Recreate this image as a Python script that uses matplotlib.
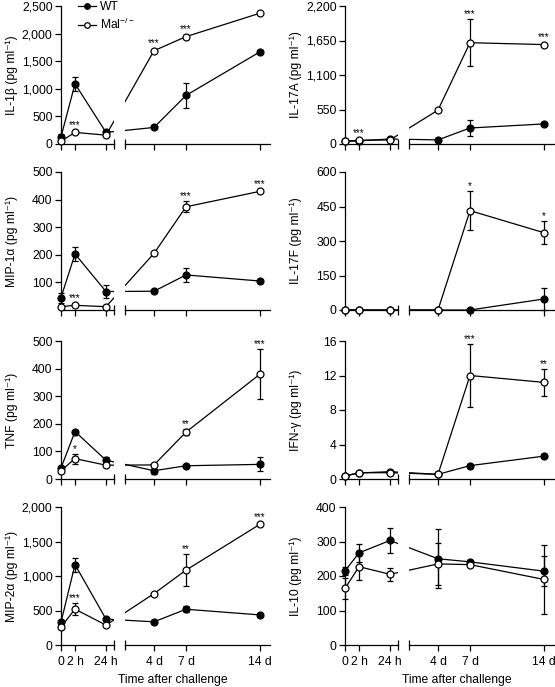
import numpy as np
import matplotlib.pyplot as plt
from matplotlib.lines import Line2D

plt.rcParams['font.family'] = ['Liberation Sans', 'DejaVu Sans']
plt.rcParams['mathtext.fontset'] = 'custom'
plt.rcParams['mathtext.rm'] = 'Liberation Sans'

# time points
times = ['0', '2 h', '24 h', '4 d', '7 d', '14 d']

# IL-1b
il1b_wt = [130, 1090, 210, 300, 880, 1670]
il1b_wt_err = [60, 130, 0, 0, 220, 0]
il1b_mal = [50, 210, 160, 1690, 1945, 2370]
il1b_mal_err = [0, 0, 0, 0, 30, 0]
il1b_stars = ['', '***', '', '***', '***', '']

# IL-17A
il17a_wt = [40, 50, 80, 65, 255, 320]
il17a_wt_err = [0, 0, 0, 0, 130, 0]
il17a_mal = [45, 60, 65, 540, 1615, 1585]
il17a_mal_err = [0, 0, 0, 0, 370, 0]
il17a_stars = ['', '***', '', '', '***', '***']

# MIP-1a
mip1a_wt = [45, 203, 67, 68, 127, 105]
mip1a_wt_err = [18, 25, 22, 0, 25, 0]
mip1a_mal = [12, 17, 12, 205, 374, 430]
mip1a_mal_err = [0, 0, 0, 0, 20, 0]
mip1a_stars = ['', '***', '', '', '***', '***']

# IL-17F
il17f_wt = [0, 0, 0, 0, 0, 48]
il17f_wt_err = [0, 0, 0, 0, 0, 48]
il17f_mal = [0, 0, 0, 0, 432, 336]
il17f_mal_err = [0, 0, 0, 0, 85, 50]
il17f_stars = ['', '', '', '', '*', '*']

# TNF
tnf_wt = [40, 172, 68, 30, 48, 53]
tnf_wt_err = [0, 0, 10, 12, 0, 25]
tnf_mal = [30, 74, 50, 51, 170, 380]
tnf_mal_err = [0, 18, 0, 0, 12, 90]
tnf_stars = ['', '*', '', '', '**', '***']

# IFN-g
ifng_wt = [0.35, 0.7, 0.85, 0.54, 1.55, 2.65]
ifng_wt_err = [0, 0, 0, 0, 0, 0.25]
ifng_mal = [0.35, 0.73, 0.73, 0.54, 12.0, 11.2]
ifng_mal_err = [0, 0, 0, 0, 3.6, 1.6]
ifng_stars = ['', '', '', '', '***', '**']

# MIP-2a
mip2a_wt = [330, 1165, 375, 336, 518, 436]
mip2a_wt_err = [0, 100, 0, 0, 40, 0]
mip2a_mal = [260, 520, 288, 745, 1085, 1750]
mip2a_mal_err = [0, 90, 0, 0, 230, 0]
mip2a_stars = ['', '***', '', '', '**', '***']

# IL-10
il10_wt = [215, 267, 303, 250, 241, 214]
il10_wt_err = [12, 25, 35, 86, 5, 44]
il10_mal = [164, 227, 205, 235, 233, 190]
il10_mal_err = [31, 38, 19, 60, 5, 100]
il10_stars = ['', '', '', '', '', '']

unit = ' (pg ml\u207b\u00b9)'
panels = [
    ('IL-1\u03b2' + unit, (0, 2500), [0, 500, 1000, 1500, 2000, 2500],
     il1b_wt, il1b_wt_err, il1b_mal, il1b_mal_err, il1b_stars),
    ('IL-17A' + unit, (0, 2200), [0, 550, 1100, 1650, 2200],
     il17a_wt, il17a_wt_err, il17a_mal, il17a_mal_err, il17a_stars),
    ('MIP-1\u03b1' + unit, (0, 500), [100, 200, 300, 400, 500],
     mip1a_wt, mip1a_wt_err, mip1a_mal, mip1a_mal_err, mip1a_stars),
    ('IL-17F' + unit, (0, 600), [0, 150, 300, 450, 600],
     il17f_wt, il17f_wt_err, il17f_mal, il17f_mal_err, il17f_stars),
    ('TNF' + unit, (0, 500), [0, 100, 200, 300, 400, 500],
     tnf_wt, tnf_wt_err, tnf_mal, tnf_mal_err, tnf_stars),
    ('IFN-\u03b3' + unit, (0, 16), [0, 4, 8, 12, 16],
     ifng_wt, ifng_wt_err, ifng_mal, ifng_mal_err, ifng_stars),
    ('MIP-2\u03b1' + unit, (0, 2000), [0, 500, 1000, 1500, 2000],
     mip2a_wt, mip2a_wt_err, mip2a_mal, mip2a_mal_err, mip2a_stars),
    ('IL-10' + unit, (0, 400), [0, 100, 200, 300, 400],
     il10_wt, il10_wt_err, il10_mal, il10_mal_err, il10_stars),
]

# layout in pixels
W, H = 555, 687
xpos = np.array([0, 14, 45, 93, 125, 199])
segs = [((0, 53), [0, 1, 2]), ((64, 209), [3, 4, 5])]
col_x0 = [61, 345]
row_bottom = [144, 310, 479, 645]
ax_h = 138
lw = 0.9
ms = 5
fs = 8.7

fig = plt.figure(figsize=(W / 100, H / 100), dpi=100)


def draw_series(ax, idx, y, err, filled, z):
    y = np.array(y, dtype=float)
    err = np.array(err, dtype=float)
    ax.plot(xpos, y, color='black', lw=lw, zorder=z)
    has = [i for i in idx if err[i] > 0]
    if has:
        eb = ax.errorbar(xpos[has], y[has], yerr=err[has], fmt='none', ecolor='black',
                         elinewidth=lw, capsize=2.5, capthick=lw, zorder=z)
        for a in eb.get_children():
            a.set_clip_on(False)
    ax.plot(xpos[idx], y[idx], 'o', ms=ms, mec='black', mew=lw,
            mfc='black' if filled else 'white', zorder=z + 0.5, clip_on=False)


for k, (label, ylim, yticks, wt, wt_err, mal, mal_err, stars) in enumerate(panels):
    r, c = k // 2, k % 2
    bottom = 1 - row_bottom[r] / H
    for s, ((x0, x1), idx) in enumerate(segs):
        ax = fig.add_axes([(col_x0[c] + x0) / W, bottom, (x1 - x0) / W, ax_h / H])
        ax.set_xlim(x0, x1)
        ax.set_ylim(*ylim)
        draw_series(ax, idx, wt, wt_err, True, 3)
        draw_series(ax, idx, mal, mal_err, False, 4)
        # significance stars above the Mal-/- points
        for i in idx:
            if stars[i]:
                err_px = mal_err[i] * ax_h / (ylim[1] - ylim[0])
                off = max(err_px, 2.5) * 0.72
                ax.annotate(stars[i], (xpos[i], mal[i]), xytext=(0, off),
                            textcoords='offset points', ha='center', va='bottom',
                            fontsize=7)
        for sp in ['top', 'right']:
            ax.spines[sp].set_visible(False)
        ax.spines['bottom'].set_linewidth(lw)
        ax.spines['left'].set_linewidth(lw)
        ax.set_xticks(xpos[idx])
        ax.set_xticks([x1 if s == 0 else x0], minor=True)
        ax.tick_params(axis='x', which='major', direction='out', length=4, width=lw)
        ax.tick_params(axis='x', which='minor', direction='inout', length=7, width=lw)
        if r == 3:
            ax.set_xticklabels([times[i] for i in idx], fontsize=fs)
        else:
            ax.set_xticklabels([])
        ax.tick_params(axis='x', pad=4)
        if s == 0:
            ax.set_yticks(yticks)
            ax.set_yticklabels(['{:,}'.format(t) for t in yticks], fontsize=fs)
            ax.tick_params(axis='y', direction='out', length=4, width=lw, pad=2)
            ax.set_ylabel(label, fontsize=fs)
            ax.yaxis.set_label_coords(-0.82, 0.5)
        else:
            ax.spines['left'].set_visible(False)
            ax.set_yticks([])

# legend
handles = [Line2D([], [], color='black', lw=lw, marker='o', ms=4, mfc='black', mew=lw),
           Line2D([], [], color='black', lw=lw, marker='o', ms=4, mfc='white', mew=lw)]
fig.legend(handles, ['WT', 'Mal$^{-/-}$'], loc='upper left',
           bbox_to_anchor=(78 / W, 1 - 1 / H), frameon=False, fontsize=fs,
           handlelength=1.5, handletextpad=0.3, labelspacing=0.3,
           borderpad=0, borderaxespad=0)

# x axis titles
for c in range(2):
    fig.text((col_x0[c] + 112) / W, 1 - 680 / H, 'Time after challenge',
             ha='center', va='center', fontsize=fs)

plt.savefig('out.png', dpi=100)
